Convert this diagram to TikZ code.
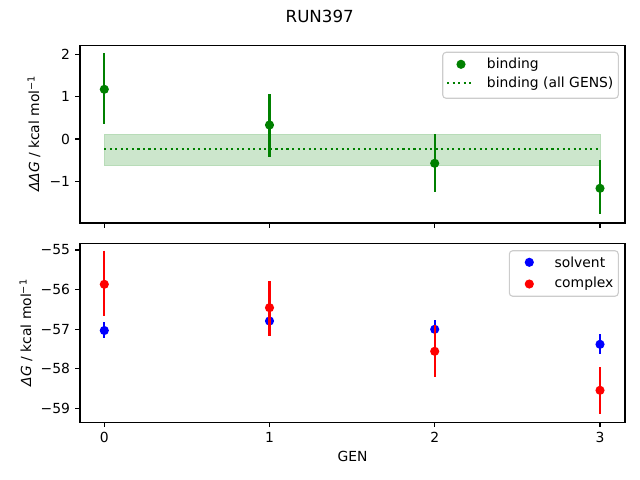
\documentclass[tikz,border=0pt]{standalone}
\usepackage{fontspec}
\setmainfont{DejaVu Sans}
\definecolor{mgreen}{HTML}{008000}
\definecolor{mblue}{HTML}{0000FF}
\definecolor{mred}{HTML}{FF0000}
\definecolor{bandfill}{HTML}{CCE6CC}
\definecolor{bandedge}{HTML}{B8DCB8}
\definecolor{legedge}{HTML}{CCCCCC}
\newcommand{\supm}{{\fontsize{7}{8}\selectfont\raisebox{0.85ex}{−1}}}
\begin{document}
\begin{tikzpicture}[x=0.72pt,y=-0.72pt,
  spine/.style={line width=0.8pt},
  tickmark/.style={line width=0.8pt},
  ebar/.style={line width=1.5pt},
  dotm/.style={radius=3.3pt},
  lbl/.style={font=\fontsize{10}{12}\selectfont, inner sep=0pt},
  legbox/.style={draw=legedge, line width=0.8pt, fill=white, fill opacity=0.8, draw opacity=1, rounded corners=2.5pt}]
\useasboundingbox (0,0) rectangle (640,480);
% ---------------- top axes ----------------
\fill[bandfill, draw=bandedge, line width=0.5pt] (104.3,134) rectangle (600,165.7);
\coordinate (avgL) at (104.3,148.7);
\coordinate (avgR) at (600,148.7);
\draw[mgreen, line width=1.5pt, dash pattern=on 1.5pt off 2.475pt] (avgL) -- (avgR);
% error bars
\draw[ebar, mgreen] (104.3,53) -- (104.3,124);
\draw[ebar, mgreen] (269.5,94) -- (269.5,156.7);
\draw[ebar, mgreen] (434.7,134) -- (434.7,191.7);
\draw[ebar, mgreen] (600,160) -- (600,214.3);
\fill[mgreen] (104.3,89.3) circle[dotm];
\fill[mgreen] (269.5,125) circle[dotm];
\fill[mgreen] (434.7,163.3) circle[dotm];
\fill[mgreen] (600,188.3) circle[dotm];
% spines
\draw[spine] (80,45.3) rectangle (625,223);
% ticks
\foreach \xx in {104.3,269.5,434.7,600} \draw[tickmark] (\xx,223) -- (\xx,227.9);
\foreach \yy/\tl in {54.3/2,96.7/1,139/0,181.3/−1} {
  \draw[tickmark] (80,\yy) -- (75.1,\yy);
  \node[lbl, anchor=east] at (70.3,\yy) {\tl};
}
\node[lbl, rotate=90] (ylab1) at (34,134) {\textit{ΔΔG} / kcal mol\supm};
% legend top
\draw[legbox] (442.7,52.3) rectangle (618.3,98.3);
\fill[mgreen] (461,64.3) circle[dotm];
\node[lbl, anchor=west] (lb1) at (486.7,64.3) {binding};
\coordinate (lgl) at (447,83.3);
\coordinate (lgr) at (474.3,83.3);
\draw[mgreen, line width=1.5pt, dash pattern=on 1.5pt off 2.475pt] (lgl) -- (lgr);
\node[lbl, anchor=west] (lb2) at (486.7,83.3) {binding (all GENS)};
% ---------------- bottom axes ----------------
% markers (scatter, below lines)
\fill[mblue] (104.3,330.5) circle[dotm];
\fill[mblue] (269.5,321) circle[dotm];
\fill[mblue] (434.7,329.3) circle[dotm];
\fill[mblue] (600,344.3) circle[dotm];
\fill[mred] (104.3,284.3) circle[dotm];
\fill[mred] (269.5,307.7) circle[dotm];
\fill[mred] (434.7,351.3) circle[dotm];
\fill[mred] (600,390.3) circle[dotm];
% error bars
\draw[ebar, mblue] (104.3,322.3) -- (104.3,337.5);
\draw[ebar, mblue] (269.5,316) -- (269.5,326);
\draw[ebar, mblue] (434.7,320) -- (434.7,338);
\draw[ebar, mblue] (600,334) -- (600,354.3);
\draw[ebar, mred] (104.3,250.7) -- (104.3,315.7);
\draw[ebar, mred] (269.5,281) -- (269.5,335.7);
\draw[ebar, mred] (434.7,325) -- (434.7,376.7);
\draw[ebar, mred] (600,367) -- (600,413.7);
% spines
\draw[spine] (80,243.3) rectangle (625,422.3);
\foreach \xx/\tl in {104.3/0,269.5/1,434.7/2,600/3} {
  \draw[tickmark] (\xx,422.3) -- (\xx,427.2);
  \node[lbl, anchor=north] at (\xx,432) {\tl};
}
\foreach \yy/\tl in {250/−55,289.6/−56,329.2/−57,368.8/−58,408.4/−59} {
  \draw[tickmark] (80,\yy) -- (75.1,\yy);
  \node[lbl, anchor=east] at (70.3,\yy) {\tl};
}
\node[lbl, rotate=90] (ylab2) at (26,333) {\textit{ΔG} / kcal mol\supm};
\node[lbl] (xlab) at (352.5,456.7) {GEN};
% legend bottom
\draw[legbox] (509.3,250.7) rectangle (618.3,296.3);
\fill[mblue] (529.3,262.3) circle[dotm];
\node[lbl, anchor=west] (ls1) at (554.3,262.3) {solvent};
\fill[mred] (529.3,284) circle[dotm];
\node[lbl, anchor=west] (ls2) at (554.3,284) {complex};
% title
\node[font=\fontsize{12}{14}\selectfont, inner sep=0pt] (title) at (319.7,16.7) {RUN397};
\end{tikzpicture}
\end{document}
